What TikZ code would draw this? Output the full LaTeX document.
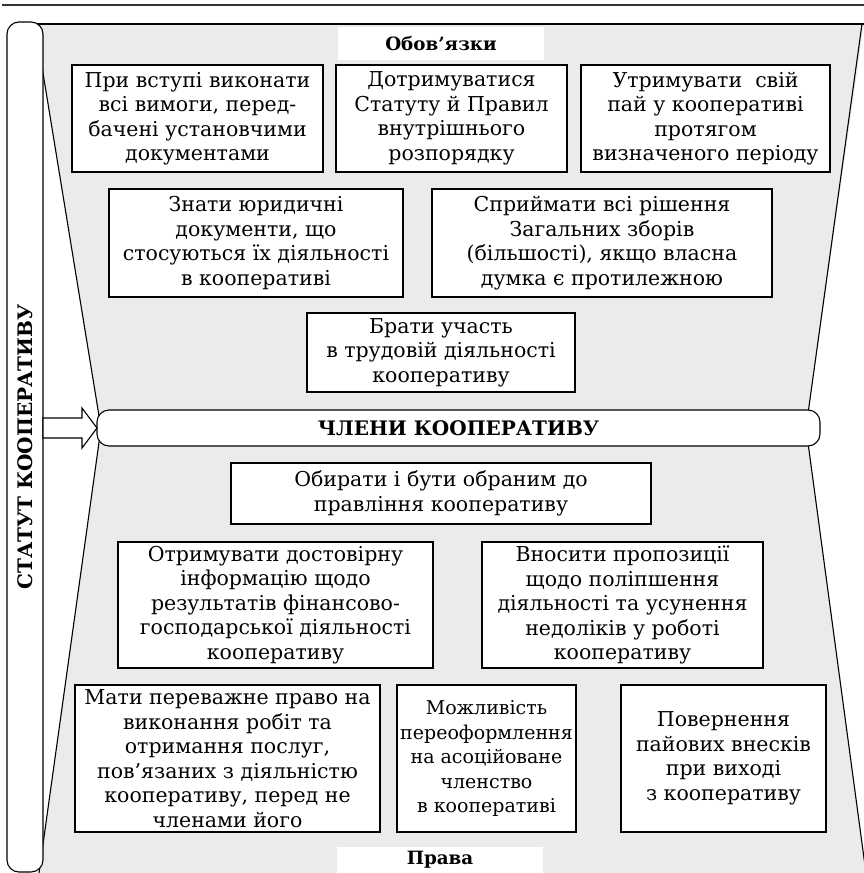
\documentclass[tikz,border=0pt]{standalone}
\usepackage{fontspec}
\setmainfont{DejaVu Serif}
\usetikzlibrary{calc}

\definecolor{fonsiryi}{RGB}{235,235,235}

\tikzset{
	pole/.style={draw, fill=white, line width=1.1pt, outer sep=0pt, inner sep=1pt, align=center, font=\fontsize{20.5}{24.5}\selectfont},
	napys/.style={fill=white, outer sep=0pt, inner sep=0pt, font=\bfseries\fontsize{18.3}{20}\selectfont},
	zahol/.style={font=\bfseries\fontsize{20}{22}\selectfont},
}

\begin{document}
\begin{tikzpicture}[x=1pt, y=-1pt]
		\useasboundingbox (0,0) rectangle (864,873);
		
		% Верхня лінія
		\draw[line width=2pt, black!80] (2,5) -- (864,5);
		
		% Сіре поле
		\fill[fonsiryi] (35,24) -- (864,24) -- (806,428) -- (866,873) -- (39,873) -- (101,428) -- cycle;
		\draw[line width=1.1pt] (35,24) -- (864,24);
		\draw[line width=1.1pt] (862,24) -- (806,428) -- (866,873);
		\draw[line width=1.1pt] (35,24) -- (101,428) -- (39,873);
		
		% Статут
		\node[draw, fill=white, line width=1.1pt, outer sep=0pt, rounded corners=12pt, rotate=90,
			minimum width=850, minimum height=36, zahol]
			(statut) at (25,447) {СТАТУТ КООПЕРАТИВУ};
		
		% Члени кооперативу
		\node[pole, rounded corners=12pt, minimum width=723, minimum height=36, zahol]
			(chleny) at (458.5,428) {ЧЛЕНИ КООПЕРАТИВУ};
		
		% Стрілка
		\draw[fill=white, line width=1.1pt] (statut.south |- chleny.west) ++(0,-10) -- ++(39,0) -- ++(0,-10)
			-- (chleny.west) -- ($(chleny.west)+(-15,20)$) -- ++(0,-10) -- ($(statut.south |- chleny.west)+(0,10)$) -- cycle;
		
		% Обов'язки
		\node[napys, minimum width=206, minimum height=33] (obov) at (441,43.5) {Обов’язки};
		\node[pole, minimum width=251, minimum height=107] (o1) at (197.5,118.5)
			{При вступі виконати\\всі вимоги, перед-\\бачені установчими\\документами};
		\node[pole, minimum width=231, minimum height=107] (o2) at (451.5,118.5)
			{Дотримуватися\\Статуту й Правил\\внутрішнього\\розпорядку};
		\node[pole, minimum width=249, minimum height=107] (o3) at (705.5,118.5)
			{Утримувати\ \ свій\\пай у кооперативі\\протягом\\визначеного періоду};
		\node[pole, minimum width=294, minimum height=108] (o4) at (256,243)
			{Знати юридичні\\документи, що\\стосуються їх діяльності\\в кооперативі};
		\node[pole, minimum width=340, minimum height=108] (o5) at (602,243)
			{Сприймати всі рішення\\Загальних зборів\\(більшості), якщо власна\\думка є протилежною};
		\node[pole, minimum width=268, minimum height=79] (o6) at (441,352.5)
			{Брати участь\\в трудовій діяльності\\кооперативу};
		
		% Права
		\node[pole, minimum width=420, minimum height=61] (p1) at (441,493.5)
			{Обирати і бути обраним до\\правління кооперативу};
		\node[pole, minimum width=315, minimum height=126] (p2) at (275.5,605)
			{Отримувати достовірну\\інформацію щодо\\результатів фінансово-\\господарської діяльності\\кооперативу};
		\node[pole, minimum width=281, minimum height=126] (p3) at (622.5,605)
			{Вносити пропозиції\\щодо поліпшення\\діяльності та усунення\\недоліків у роботі\\кооперативу};
		\node[pole, minimum width=305, minimum height=147] (p4) at (227.5,758.5)
			{Мати переважне право на\\виконання робіт та\\отримання послуг,\\пов’язаних з діяльністю\\кооперативу, перед не\\членами його};
		\node[pole, minimum width=179, minimum height=147, inner sep=0pt, font=\fontsize{19}{24.5}\selectfont] (p5) at (486.5,758.5)
			{Можливість\\переоформлення\\на асоційоване\\членство\\в кооперативі};
		\node[pole, minimum width=205, minimum height=147] (p6) at (723.5,758.5)
			{Повернення\\пайових внесків\\при виході\\з кооперативу};
		\node[napys, minimum width=206, minimum height=26] (prava) at (440,860) {Права};
\end{tikzpicture}
\end{document}
